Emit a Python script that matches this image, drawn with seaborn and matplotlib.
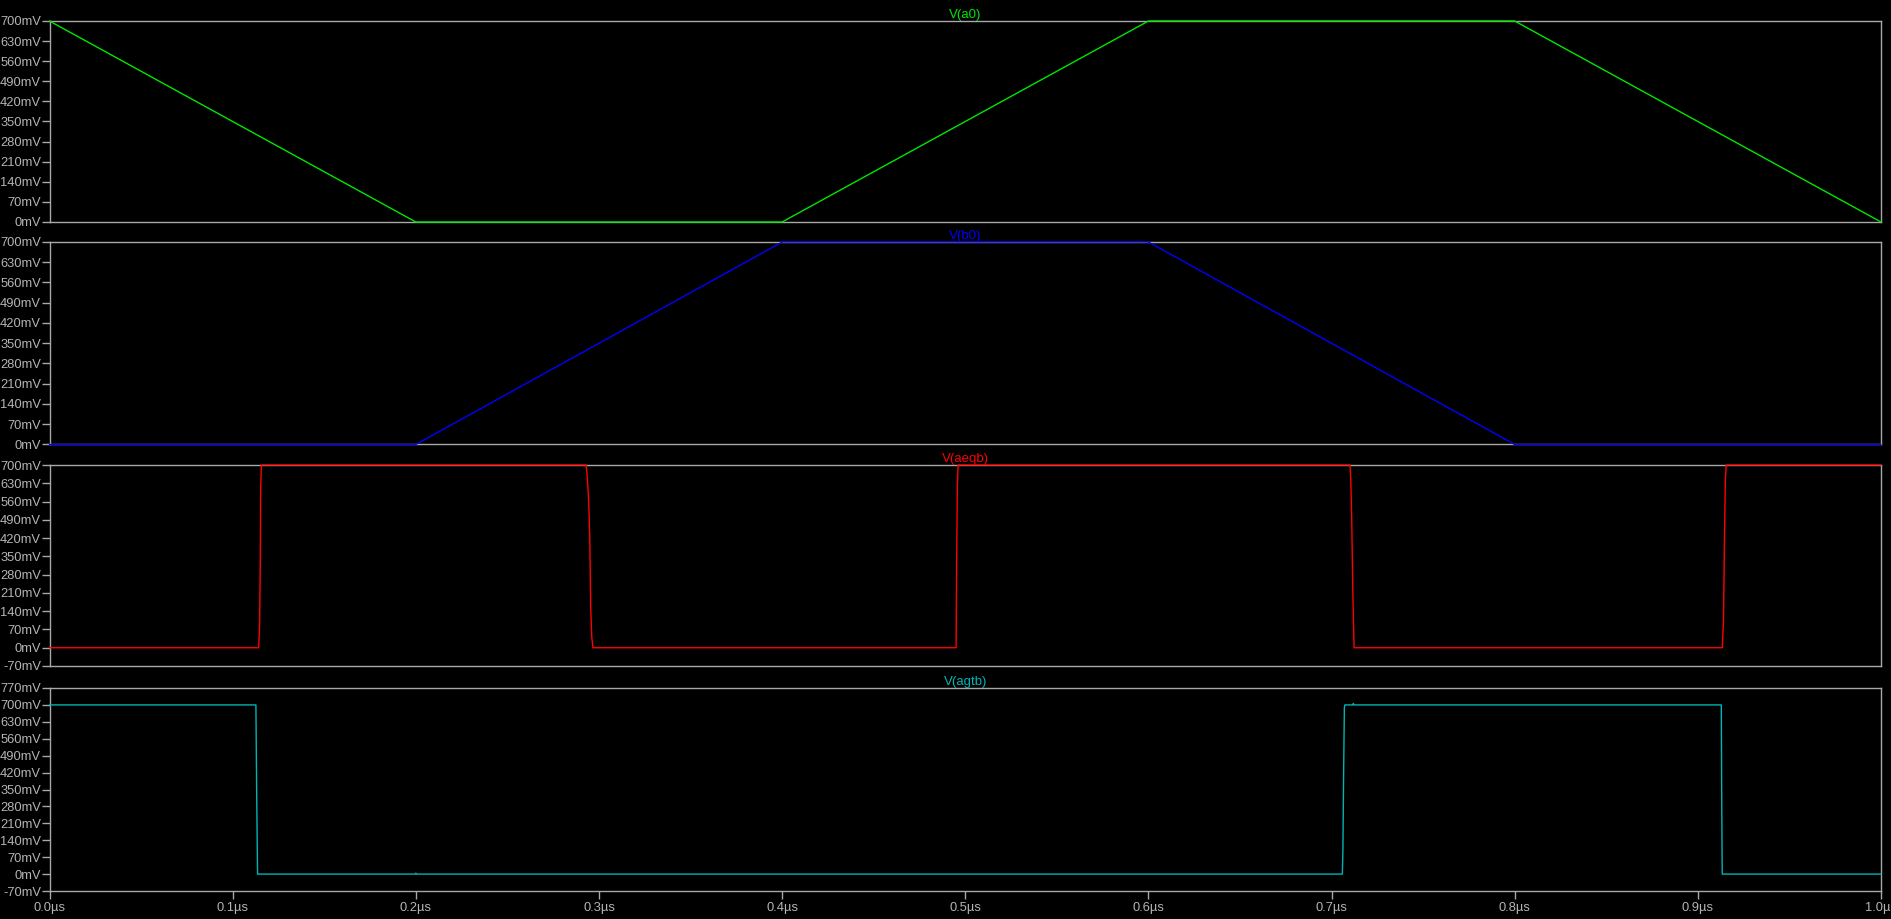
import numpy as np
import pandas as pd
import matplotlib
matplotlib.use("Agg")
import matplotlib.pyplot as plt
import seaborn as sns

# time in microseconds, voltages in mV
t_a0 = [0.0, 0.2, 0.4, 0.6, 0.8, 1.0]
v_a0 = [700, 0, 0, 700, 700, 0]

t_b0 = [0.0, 0.2, 0.4, 0.6, 0.8, 1.0]
v_b0 = [0, 0, 700, 700, 0, 0]

t_aeqb = [0.0, 0.1142, 0.1147, 0.1151, 0.1153, 0.1157,
          0.2930, 0.2937, 0.2944, 0.2950, 0.2955, 0.2961, 0.2967,
          0.4950, 0.4953, 0.4957, 0.4961,
          0.7101, 0.7105, 0.7110, 0.7116, 0.7123,
          0.9133, 0.9140, 0.9145, 0.9150, 0.9155, 1.0]
v_aeqb = [0, 0, 80, 330, 610, 700,
          700, 650, 560, 420, 150, 40, 0,
          0, 330, 620, 700,
          700, 640, 500, 220, 0,
          0, 100, 400, 640, 700, 700]

t_agtb = [0.0, 0.1127, 0.1131, 0.1136, 0.1997, 0.2000, 0.2003,
          0.7059, 0.7062, 0.7066, 0.7070, 0.7073, 0.7116, 0.7119, 0.7122,
          0.9128, 0.9130, 0.9133, 1.0]
v_agtb = [700, 700, 350, 0, 0, 4, 0,
          0, 100, 420, 690, 700, 700, 706, 700,
          700, 350, 0, 0]

panels = [
    ("V(a0)", t_a0, v_a0, "#00e600", (0, 700)),
    ("V(b0)", t_b0, v_b0, "#0000ff", (0, 700)),
    ("V(aeqb)", t_aeqb, v_aeqb, "#ff0000", (-70, 700)),
    ("V(agtb)", t_agtb, v_agtb, "#00b4b4", (-70, 770)),
]

x_ticks = [round(0.1 * i, 1) for i in range(11)]

sns.set_theme(style="dark")
plt.rcParams['font.family'] = ['Liberation Sans', 'DejaVu Sans']

W, H = 1891, 919
fig = plt.figure(figsize=(W / 100, H / 100), dpi=100, facecolor="black")

# panel (top, bottom) in pixels
boxes = [(21, 222), (242, 444.5), (465, 666), (688, 891)]
left_px, right_px = 49.5, 1881

grid = "#a8a8a8"
txt = "#b4b4b4"

for i, ((name, tt, vv, col, ylim), (top, bot)) in enumerate(zip(panels, boxes)):
    ax = fig.add_axes([left_px / W, 1 - bot / H, (right_px - left_px) / W, (bot - top) / H])
    ax.set_facecolor("black")
    df = pd.DataFrame({"t": tt, "v": vv})
    sns.lineplot(data=df, x="t", y="v", ax=ax, color=col, linewidth=1.0,
                 estimator=None, sort=False)
    for ln in ax.lines:
        ln.set_clip_on(False)
        ln.set_zorder(3)
    ax.set_xlim(0, 1.0)
    ax.set_ylim(*ylim)
    yt = list(range(ylim[0], ylim[1] + 1, 70))
    ax.set_yticks(yt)
    ax.set_yticklabels([f"{v}mV" for v in yt])
    ax.set_xticks(x_ticks)
    if i == 3:
        ax.set_xticklabels([f"{x:.1f}µs" for x in x_ticks])
        ax.tick_params(axis="x", bottom=True, length=6, width=1, color=grid,
                       labelcolor=txt, labelsize=9.3, pad=2)
    else:
        ax.tick_params(axis="x", bottom=False, labelbottom=False)
    ax.tick_params(axis="y", left=True, length=6, width=1, color=grid,
                   labelcolor=txt, labelsize=9.3, pad=0)
    ax.grid(False)
    ax.set_xlabel("")
    ax.set_ylabel("")
    for sp in ax.spines.values():
        sp.set_visible(True)
        sp.set_color(grid)
        sp.set_linewidth(1.0)
    ax.set_title(name, color=col, fontsize=9.5, pad=2)

fig.savefig("out.png", dpi=100, facecolor="black")
